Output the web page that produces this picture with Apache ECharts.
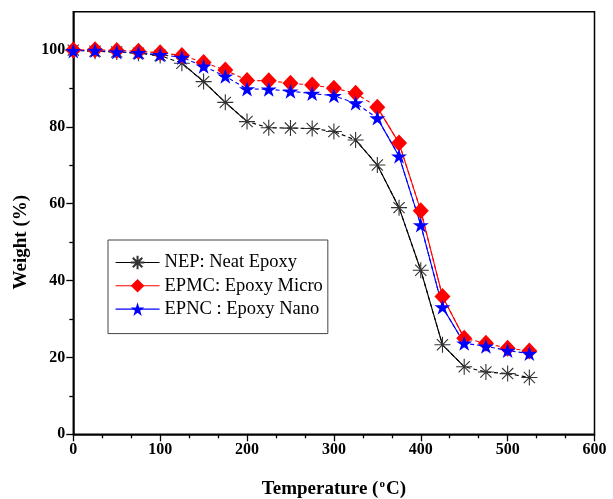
<!DOCTYPE html>
<html>
<head>
<meta charset="utf-8">
<script src="https://cdn.jsdelivr.net/npm/echarts@6/dist/echarts.min.js"></script>
<style>
html,body{margin:0;padding:0;background:#fff;}
#chart{width:613px;height:499px;}
</style>
</head>
<body>
<div id="chart"></div>
<script>
// ---- data ----
const temperatures = [0, 25, 50, 75, 100, 125, 150, 175, 200, 225, 250, 275, 300, 325, 350, 375, 400, 425, 450, 475, 500, 525];
const nepWeight  = [100, 99.7, 99.5, 99.2, 98.6, 96.6, 91.8, 86.4, 81.4, 79.8, 79.7, 79.6, 78.8, 76.6, 70.1, 59.0, 42.7, 23.3, 17.6, 16.2, 15.8, 14.8];
const epmcWeight = [100, 100.1, 99.9, 99.7, 99.3, 98.6, 96.8, 94.8, 92.1, 92.0, 91.4, 90.9, 90.1, 88.8, 85.1, 75.8, 58.2, 35.9, 25.0, 23.7, 22.4, 21.7];
const epncWeight = [99.8, 99.9, 99.5, 99.3, 98.8, 98.1, 95.8, 93.2, 89.9, 89.8, 89.3, 88.7, 88.1, 86.2, 82.3, 72.4, 54.5, 33.1, 23.7, 22.9, 21.8, 21.0];
const seriesNames = ['NEP: Neat Epoxy', 'EPMC: Epoxy Micro', 'EPNC : Epoxy Nano'];
const xTicks = { min: 0, max: 600, step: 100 };
const yTicks = { min: 0, max: 100, step: 20 };

// ---- style config (kept separate from data) ----
const FONT = 'Liberation Serif';
const solidRanges = [[[125, 200], [325, 450]], [[350, 450]], [[350, 450]]];
const colors = ['#000000', '#ff0000', '#0000ff'];
const ASTERISK = 'path://M0 8 L16 8 M8 0 L8 16 M2.4 2.4 L13.6 13.6 M13.6 2.4 L2.4 13.6';
const STAR = 'path://M10 0 L12.245 6.91 L19.511 6.91 L13.633 11.18 L15.878 18.09 L10 13.82 L4.122 18.09 L6.367 11.18 L0.489 6.91 L7.755 6.91 Z';
const symbols = [ASTERISK, 'diamond', STAR];
const symbolSizes = [16, [16, 17], [16, 15]];
const itemStyles = [
  { color: 'rgba(0,0,0,0)', borderColor: '#333', borderWidth: 1.1 },
  { color: '#ff0000', borderWidth: 0 },
  { color: '#0000ff', borderWidth: 0 }
];

const allWeights = [nepWeight, epmcWeight, epncWeight];

function inSolid(t, ranges) {
  return ranges.some(r => t >= r[0] && t <= r[1]);
}

const series = [];
allWeights.forEach((w, i) => {
  const full = temperatures.map((t, k) => [t, w[k]]);
  const solid = temperatures.map((t, k) => [t, inSolid(t, solidRanges[i]) ? w[k] : '-']);
  series.push({
    name: seriesNames[i] + '_solid',
    type: 'line',
    xAxisIndex: 0, yAxisIndex: 0,
    data: solid,
    showSymbol: false,
    connectNulls: false,
    lineStyle: { color: colors[i], width: 1.1, type: 'solid' },
    itemStyle: { color: colors[i] },
    silent: true
  });
  series.push({
    name: seriesNames[i],
    type: 'line',
    xAxisIndex: 0, yAxisIndex: 0,
    data: full,
    symbol: symbols[i],
    symbolSize: symbolSizes[i],
    showAllSymbol: true,
    lineStyle: { color: colors[i], width: 1.1, type: [4, 3] },
    itemStyle: itemStyles[i],
    silent: true
  });
});

const chart = echarts.init(document.getElementById('chart'), null, { renderer: 'canvas' });
chart.setOption({
  animation: false,
  backgroundColor: '#fff',
  grid: [
    { left: 73.3, right: 18.5, top: 11.7, bottom: 64.7, show: true, borderColor: '#000', borderWidth: 1.5, backgroundColor: 'transparent', containLabel: false, outerBoundsMode: 'none' },
    { left: 73.3, right: 18.5, top: 50, bottom: 64.7, show: false, containLabel: false, outerBoundsMode: 'none' }
  ],
  xAxis: [
    {
      gridIndex: 0, type: 'value', min: xTicks.min, max: xTicks.max, interval: xTicks.step,
      name: 'Temperature ({sup|o}C)', nameLocation: 'middle', nameGap: 44,
      nameTextStyle: {
        fontFamily: FONT, fontWeight: 'bold', fontSize: 19, color: '#000',
        rich: { sup: { fontFamily: FONT, fontWeight: 'bold', fontSize: 11, color: '#000', verticalAlign: 'top', padding: [0, 1, 10, 1] } }
      },
      axisLine: { show: true, lineStyle: { color: '#000', width: 1.5 } },
      axisTick: { show: true, inside: false, length: 7, lineStyle: { color: '#000', width: 1.3 } },
      minorTick: { show: true, splitNumber: 3, length: 4, lineStyle: { color: '#000', width: 1.3 } },
      axisLabel: { fontFamily: FONT, fontWeight: 'bold', fontSize: 16, color: '#000', margin: 8 },
      splitLine: { show: false }, minorSplitLine: { show: false }
    },
    { gridIndex: 1, type: 'value', min: xTicks.min, max: xTicks.max, show: false }
  ],
  yAxis: [
    {
      gridIndex: 0, type: 'value', min: 0, max: 110,
      axisLine: { show: true, lineStyle: { color: '#000', width: 1.5 } },
      axisTick: { show: false }, axisLabel: { show: false }, splitLine: { show: false }
    },
    {
      gridIndex: 1, type: 'value', min: yTicks.min, max: yTicks.max, interval: yTicks.step,
      name: 'Weight (%)', nameLocation: 'middle', nameGap: 39,
      nameTextStyle: { fontFamily: FONT, fontWeight: 'bold', fontSize: 19, color: '#000' },
      axisLine: { show: false },
      axisTick: { show: true, inside: false, length: 7, lineStyle: { color: '#000', width: 1.3 } },
      minorTick: { show: true, splitNumber: 2, length: 4, lineStyle: { color: '#000', width: 1.3 } },
      axisLabel: { fontFamily: FONT, fontWeight: 'bold', fontSize: 16, color: '#000', margin: 8 },
      splitLine: { show: false }, minorSplitLine: { show: false }
    }
  ],
  legend: {
    data: seriesNames,
    orient: 'vertical',
    left: 108, top: 240,
    itemWidth: 44, itemHeight: 17, itemGap: 4.3,
    padding: [13, 5, 15, 7],
    borderColor: '#444', borderWidth: 1,
    backgroundColor: '#fff',
    selectedMode: false,
    lineStyle: { type: 'solid', width: 1.1 },
    textStyle: { fontFamily: FONT, fontSize: 18.5, lineHeight: 18, color: '#000' }
  },
  series: series
});
</script>
</body>
</html>
